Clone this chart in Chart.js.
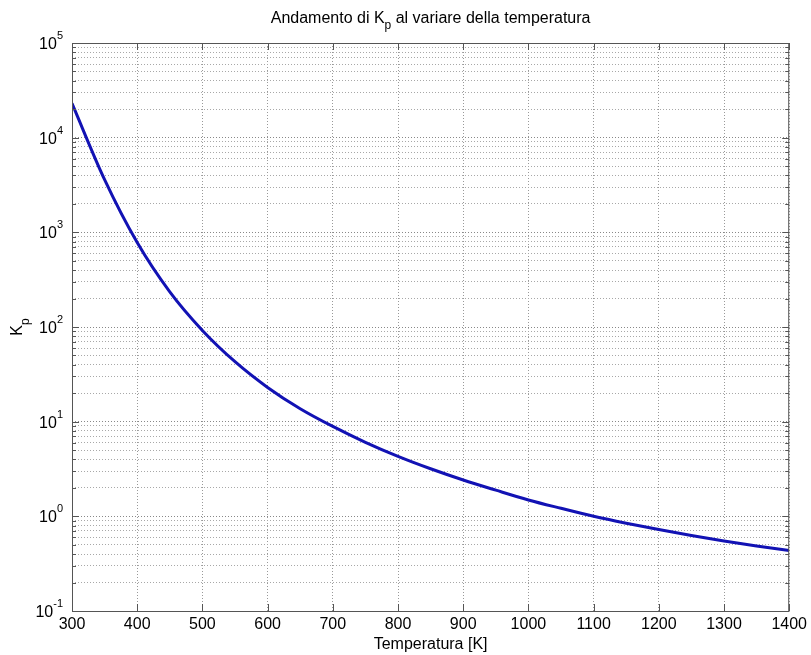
<!DOCTYPE html>
<html>
<head>
<meta charset="utf-8">
<script src="https://cdn.jsdelivr.net/npm/chart.js@4.4.0/dist/chart.umd.min.js"></script>
<style>
  html, body { margin: 0; padding: 0; background: #fff; }
  #wrap { width: 811px; height: 655px; }
</style>
</head>
<body>
<div id="wrap"><canvas id="myChart"></canvas></div>
<script>
// values (Kp vs temperature)
const temperatures = [300, 350, 400, 450, 500, 550, 600, 650, 700, 750, 800, 850,
    900, 950, 1000, 1050, 1100, 1150, 1200, 1250, 1300, 1350, 1400];
const kpValues = [23000, 3600, 780, 235, 92, 43, 23, 13.7, 8.9, 6.05, 4.3, 3.18,
    2.42, 1.89, 1.49, 1.215, 1.0, 0.845, 0.725, 0.628, 0.55, 0.487, 0.435];
const xTickValues = [300, 400, 500, 600, 700, 800, 900, 1000, 1100, 1200, 1300, 1400];
const yDecades = [-1, 0, 1, 2, 3, 4, 5];

const fontFamily = "'Liberation Sans', Arial, sans-serif";
const frameColor = "#555";

// all the log ticks: 1..9 x 10^e, and the top decade
function buildLogTicks() {
    const ticks = [];
    for (let i = 0; i < yDecades.length - 1; i++) {
        for (let m = 1; m <= 9; m++) {
            ticks.push({ value: m * Math.pow(10, yDecades[i]) });
        }
    }
    ticks.push({ value: Math.pow(10, yDecades[yDecades.length - 1]) });
    return ticks;
}

function isDecade(v) {
    const l = Math.log10(v);
    return Math.abs(l - Math.round(l)) < 1e-9;
}

// text with a subscript part, drawn at (x, y) baseline, left aligned
function drawSubText(ctx, parts, x, y) {
    let cx = x;
    parts.forEach(p => {
        ctx.font = p.size + "px " + fontFamily;
        ctx.fillText(p.text, cx, y + (p.shift || 0));
        cx += ctx.measureText(p.text).width;
    });
    return cx - x;
}
function measureSubText(ctx, parts) {
    let w = 0;
    parts.forEach(p => {
        ctx.font = p.size + "px " + fontFamily;
        w += ctx.measureText(p.text).width;
    });
    return w;
}

const matlabLook = {
    id: "matlabLook",
    afterDraw(chart) {
        const ctx = chart.ctx;
        const area = chart.chartArea;
        const xs = chart.scales.x;
        const ys = chart.scales.y;
        ctx.save();

        // axes box
        ctx.strokeStyle = frameColor;
        ctx.lineWidth = 1;
        ctx.strokeRect(area.left + 0.5, area.top + 0.5, area.right - area.left - 1, area.bottom - area.top);

        // inward ticks
        ctx.beginPath();
        xTickValues.forEach(v => {
            const x = Math.round(xs.getPixelForValue(v)) + 0.5;
            ctx.moveTo(x, area.bottom); ctx.lineTo(x, area.bottom - 7);
            ctx.moveTo(x, area.top); ctx.lineTo(x, area.top + 7);
        });
        ys.ticks.forEach(t => {
            const y = Math.round(ys.getPixelForValue(t.value)) + 0.5;
            const len = isDecade(t.value) ? 7 : 4;
            ctx.moveTo(area.left, y); ctx.lineTo(area.left + len, y);
            ctx.moveTo(area.right, y); ctx.lineTo(area.right - len, y);
        });
        ctx.stroke();

        // y tick labels 10^e
        ctx.fillStyle = "#000";
        ctx.textAlign = "left";
        ctx.textBaseline = "alphabetic";
        yDecades.forEach(e => {
            const y = ys.getPixelForValue(Math.pow(10, e));
            const exp = String(e);
            ctx.font = "11px " + fontFamily;
            const we = ctx.measureText(exp).width;
            ctx.font = "16px " + fontFamily;
            const wb = ctx.measureText("10").width;
            const xEnd = area.left - 9;
            ctx.font = "16px " + fontFamily;
            ctx.fillText("10", xEnd - we - wb, y + 6);
            ctx.font = "11px " + fontFamily;
            ctx.fillText(exp, xEnd - we, y - 4);
        });

        // main title with subscript
        const titleParts = [
            { text: "Andamento di K", size: 16 },
            { text: "p", size: 12, shift: 6 },
            { text: " al variare della temperatura", size: 16 }
        ];
        const tw = measureSubText(ctx, titleParts);
        const cx = (area.left + area.right) / 2;
        drawSubText(ctx, titleParts, cx - tw / 2, 23);

        // y axis title, rotated
        const yParts = [
            { text: "K", size: 16 },
            { text: "p", size: 12, shift: 7 }
        ];
        const yw = measureSubText(ctx, yParts);
        ctx.translate(22, (area.top + area.bottom) / 2);
        ctx.rotate(-Math.PI / 2);
        drawSubText(ctx, yParts, -yw / 2, 0);

        ctx.restore();
    }
};

const ctx = document.getElementById("myChart").getContext("2d");
new Chart(ctx, {
    type: "line",
    data: {
        datasets: [{
            data: temperatures.map((t, i) => ({ x: t, y: kpValues[i] })),
            borderColor: "#1212b4",
            borderWidth: 3,
            pointRadius: 0,
            cubicInterpolationMode: "monotone",
            fill: false
        }]
    },
    options: {
        responsive: true,
        maintainAspectRatio: false,
        animation: false,
        layout: { padding: { left: 72, right: 20, top: 43, bottom: 0 } },
        plugins: {
            legend: { display: false },
            tooltip: { enabled: false }
        },
        scales: {
            x: {
                type: "linear",
                min: 300,
                max: 1400,
                afterBuildTicks: scale => { scale.ticks = xTickValues.map(v => ({ value: v })); },
                afterFit: scale => { scale.height = 44; },
                ticks: {
                    color: "#000",
                    font: { family: fontFamily, size: 16 },
                    padding: 4,
                    maxRotation: 0,
                    autoSkip: false,
                    callback: v => String(v)
                },
                grid: { color: "#999", drawTicks: false, lineWidth: 1 },
                border: { display: false, dash: [1, 2] },
                title: {
                    display: true,
                    text: "Temperatura [K]",
                    color: "#000",
                    font: { family: fontFamily, size: 16 },
                    padding: { top: 0, bottom: 1 }
                }
            },
            y: {
                type: "logarithmic",
                min: 0.1,
                max: 100000,
                afterBuildTicks: scale => { scale.ticks = buildLogTicks(); },
                afterFit: scale => { scale.width = 0; },
                ticks: { display: false },
                grid: {
                    color: c => (c.tick && isDecade(c.tick.value)) ? "#888" : "#a8a8a8",
                    drawTicks: false,
                    lineWidth: 1
                },
                border: { display: false, dash: [1, 2] }
            }
        }
    },
    plugins: [matlabLook]
});
</script>
</body>
</html>
